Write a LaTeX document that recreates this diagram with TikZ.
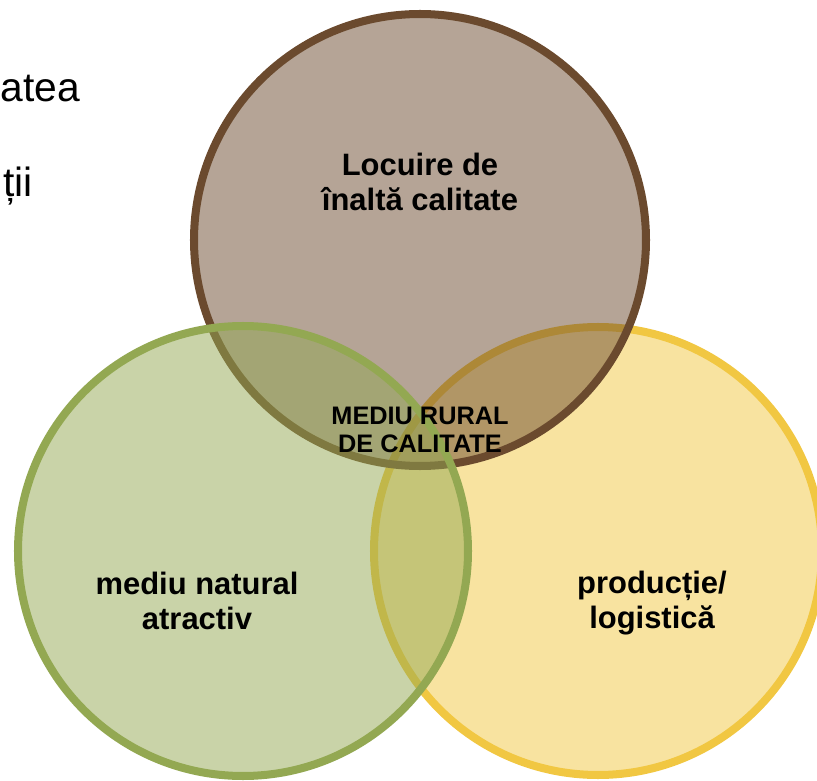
\documentclass[tikz,border=0pt]{standalone}
\usepackage{fontspec}
\setmainfont{Liberation Sans}
\usetikzlibrary{positioning}

\definecolor{housebrown}{HTML}{6B4A2E}
\definecolor{naturegreen}{HTML}{93A852}
\definecolor{prodyellow}{HTML}{F1C742}

\tikzset{
  ring/.style={line width=5.7pt, fill opacity=0.5},
  venntext/.style={font=\bfseries\fontsize{22}{24.5}\selectfont, align=center, text=black, inner sep=0pt},
  sidetext/.style={font=\fontsize{29}{33}\selectfont, anchor=base east, inner sep=0pt}
}

\begin{document}
\begin{tikzpicture}[x=0.025cm, y=-0.025cm]
      \useasboundingbox (0,0) rectangle (817,781);
      \clip (0,0) rectangle (817,781);

      % Text behind
      \node (quality) [sidetext] at (80,102) {atea};
      \node (activity) [sidetext] at (33,197) {ții};

      % Circles
      \draw[ring, draw=prodyellow, fill=prodyellow] (598,551) circle [radius=224];
      \draw[ring, draw=housebrown, fill=housebrown] (420,240) circle [radius=226];
      \draw[ring, draw=naturegreen, fill=naturegreen] (243,551) circle [radius=225];

      % Labels
      \node (housing) [venntext] at (420,182) {Locuire de\\înaltă calitate};
      \node (nature) [venntext] at (197,601) {mediu natural\\atractiv};
      \node (production) [venntext] at (652,603) {producție/\\logistică};
      \node (rural) [venntext, font=\bfseries\fontsize{18}{20}\selectfont] at (420,430) {MEDIU RURAL\\DE CALITATE};
\end{tikzpicture}
\end{document}
